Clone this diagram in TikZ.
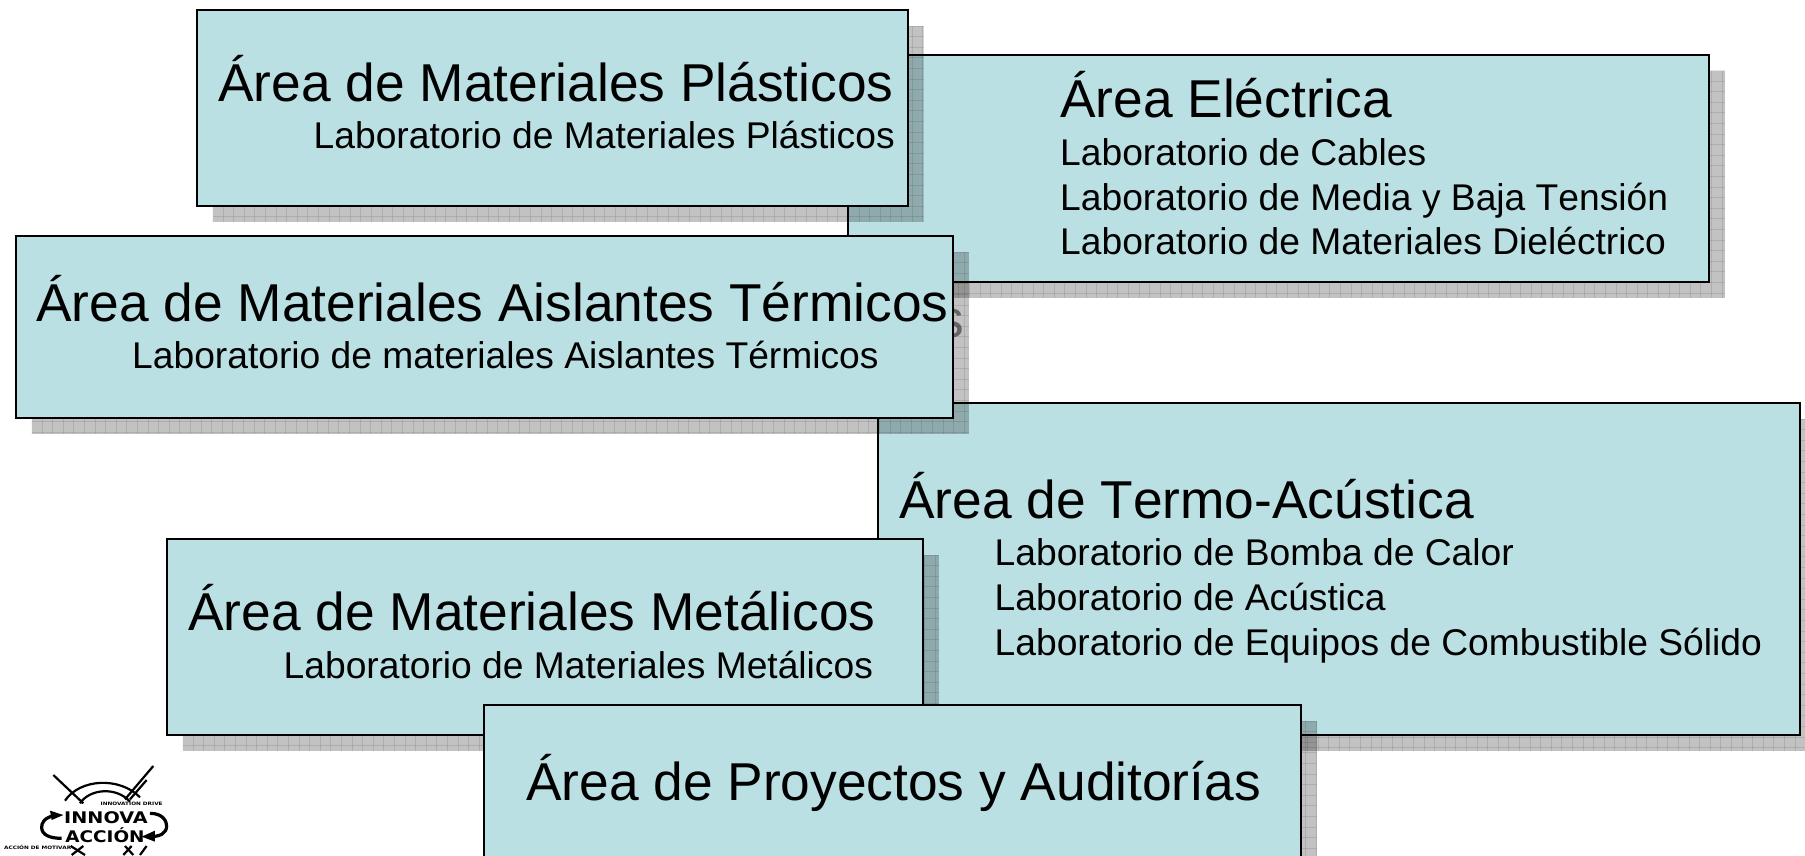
\documentclass[tikz,border=0pt]{standalone}
\usepackage{fontspec}
\setmainfont[Kerning=Off]{Liberation Sans}
\newfontfamily\logofont{DejaVu Sans}
\definecolor{boxfill}{HTML}{BBE0E3}
\definecolor{ghost}{HTML}{858585}
\tikzset{
  areabox/.style={draw=black,line width=2pt,fill=boxfill,inner sep=0pt},
  shadowfill/.style={fill=black,fill opacity=.24,draw=none},
  shadowgrid/.style={draw=black,draw opacity=.10,line width=1pt},
  titletext/.style={anchor=base west,inner sep=0pt,font=\fontsize{53.3}{60}\selectfont},
  labtext/.style={anchor=base west,inner sep=0pt,font=\fontsize{37.2}{42}\selectfont},
  logoline/.style={draw=black,line width=2.2pt},
  logotext/.style={inner sep=0pt,font=\logofont\bfseries\fontsize{16}{16}\selectfont},
  logotiny/.style={inner sep=0pt,font=\logofont\bfseries\fontsize{4.6}{5}\selectfont}
}
\newcommand{\areashape}[5]{%
  \pgfmathsetmacro{\sxa}{#2+16}\pgfmathsetmacro{\sya}{#3+16}
  \pgfmathsetmacro{\sxb}{#4+16}\pgfmathsetmacro{\syb}{#5+16}
  \begin{scope}
    \clip (\sxa,\sya) rectangle (\sxb,\syb);
    \fill[shadowfill] (\sxa,\sya) rectangle (\sxb,\syb);
    \pgfmathsetmacro{\nx}{int((#4-#2)/10.6)+1}
    \pgfmathsetmacro{\ny}{int((#5-#3)/10.6)+1}
    \foreach \i in {0,...,\nx} {\draw[shadowgrid] (\sxa+\i*10.6,\sya) -- (\sxa+\i*10.6,\syb);}
    \foreach \i in {0,...,\ny} {\draw[shadowgrid] (\sxa,\sya+\i*10.6) -- (\sxb,\sya+\i*10.6);}
  \end{scope}
  \pgfmathsetmacro{\bw}{#4-#2}\pgfmathsetmacro{\bh}{#5-#3}
  \node[areabox,minimum width=\bw pt,minimum height=\bh pt] (#1) at ({(#2+#4)/2},{(#3+#5)/2}) {};
}
\begin{document}
\begin{tikzpicture}[x=1pt,y=-1pt]
\useasboundingbox (0,0) rectangle (1805,855);
\clip (0,0) rectangle (1805,855);
% Electrica
\areashape{electrica}{847.5}{54.5}{1709}{282}
\node[titletext] (telectrica) at (1060,117.8) {Área Eléctrica};
\node[labtext] (l1) at (1060,165) {Laboratorio de Cables};
\node[labtext] (l2) at (1060,210.6) {Laboratorio de Media y Baja Tensión};
\node[labtext] (l3) at (1060,254.5) {Laboratorio de Materiales Dieléctrico};
% Plasticos
\areashape{plasticos}{196.5}{10}{907.5}{206}
\node[titletext] (tplasticos) at (218,101) {Área de Materiales Plásticos};
\node[labtext] (l4) at (313.5,148.5) {Laboratorio de Materiales Plásticos};
% Termo-acustica
\node[titletext,text=ghost] (ghosts) at (937,337) {s};
\areashape{termo}{878}{403}{1800}{735}
\node[titletext] (ttermo) at (899,518) {Área de Termo-Acústica};
\node[labtext] (l5) at (994.5,565) {Laboratorio de Bomba de Calor};
\node[labtext] (l6) at (994.5,610.3) {Laboratorio de Acústica};
\node[labtext] (l7) at (994.5,655.7) {Laboratorio de Equipos de Combustible Sólido};
% Termicos
\areashape{termicos}{15.5}{236}{953}{417.7}
\node[titletext] (ttermicos) at (36,321.7) {Área de Materiales Aislantes Térmicos};
\node[labtext] (l8) at (132,368.5) {Laboratorio de materiales Aislantes Térmicos};
% Metalicos
\areashape{metalicos}{166.5}{539}{923}{735}
\node[titletext] (tmetalicos) at (188,630.5) {Área de Materiales Metálicos};
\node[labtext] (l9) at (283.5,678) {Laboratorio de Materiales Metálicos};
% Proyectos
\areashape{proyectos}{484}{705}{1301}{900}
\node[titletext] (tproyectos) at (526,800) {Área de Proyectos y Auditorías};
% Logo
\begin{scope}[shift={(0,740)},x=.3333pt,y=-.3333pt]
  \draw[logoline] (160,105) -- (250,190);
  \draw[logoline] (460,78) -- (375,178);
  \draw[logoline] (440,120) -- (390,178);
  \draw[logoline] (195,182) .. controls (240,115) and (360,110) .. (420,172);
  \draw[logoline] (240,190) .. controls (270,145) and (350,140) .. (390,185);
  \draw[logoline,line width=3.2pt] (170,225) .. controls (130,232) and (125,250) .. (125,262) .. controls (125,285) and (150,295) .. (185,295);
  \fill (190,225) -- (150,212) -- (155,240) -- cycle;
  \draw[logoline,line width=3.2pt] (450,220) .. controls (490,220) and (500,245) .. (500,258) .. controls (500,280) and (480,290) .. (450,290);
  \fill (425,290) -- (465,272) -- (465,305) -- cycle;
  \node[logotext] (innova) at (318,232) {\scalebox{1.2}[1]{INNOVA}};
  \node[logotext] (accion) at (315,287) {\scalebox{1.15}[1]{ACCIÓN}};
  \node[logotiny] (tinyone) at (395,190) {\scalebox{1.25}[1]{INNOVATION DRIVE}};
  \node[logotiny] (tinytwo) at (113,323) {\scalebox{1.25}[1]{ACCIÓN DE MOTIVAR}};
  \draw[logoline] (212,318) -- (255,345);
  \draw[logoline] (250,318) -- (215,345);
  \draw[logoline] (370,345) -- (395,318);
  \draw[logoline] (375,318) -- (400,345);
  \draw[logoline] (420,345) -- (440,318);
\end{scope}
\end{tikzpicture}
\end{document}
